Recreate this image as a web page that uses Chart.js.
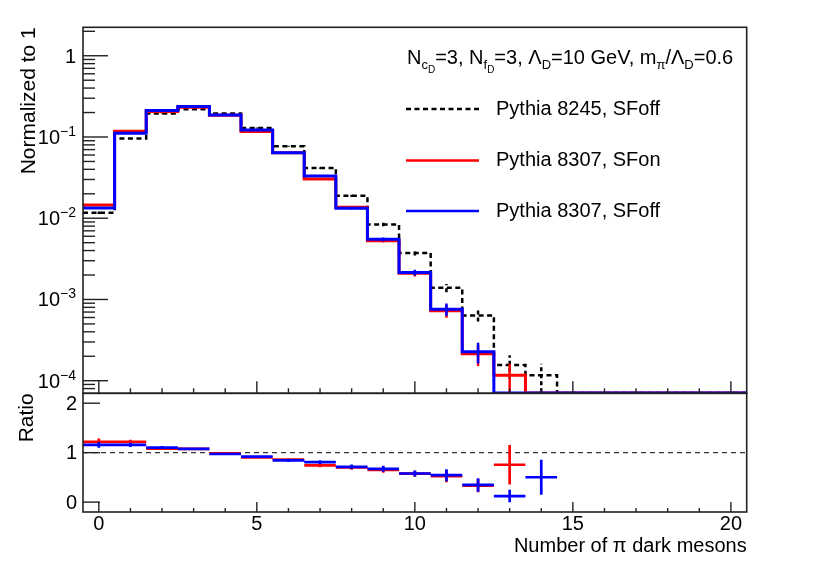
<!DOCTYPE html>
<html>
<head>
<meta charset="utf-8">
<script src="https://cdn.jsdelivr.net/npm/chart.js@4.4.0/dist/chart.umd.min.js"></script>
<style>
  html, body { margin: 0; padding: 0; background: #fff; }
  #wrap { position: relative; width: 830px; height: 563px; }
  #wrap canvas { position: absolute; left: 0; top: 0; }
</style>
</head>
<body>
<div id="wrap">
  <canvas id="chartTop" width="830" height="563"></canvas>
  <canvas id="chartRatio" width="830" height="563"></canvas>
</div>
<script>
// Multiplicité des pions sombres : Pythia 8245 vs 8307 + panneau ratio

const bins        = [0, 1, 2, 3, 4, 5, 6, 7, 8, 9, 10, 11, 12, 13, 14, 15, 16, 17, 18, 19, 20];
const xMajorTicks = [0, 5, 10, 15, 20];
const yLogTicks   = [1e-4, 1e-3, 1e-2, 1e-1, 1];
const ratioTicks  = [0, 1, 2];

// histos normalisés
const p8245SFoff    = [0.0117, 0.0955, 0.1945, 0.220, 0.1945, 0.129, 0.0768, 0.0414, 0.0189, 0.00837, 0.00374, 0.00139, 0.000634, 0.000156, 0.000117, 0, 0, 0, 0, 0, 0];
const p8245SFoffErr = [0.0004, 0.0013, 0.0019, 0.0020, 0.0019, 0.0015, 0.0012, 0.00085, 0.0006, 0.0004, 0.00026, 0.00016, 0.0001, 0.00005, 0.000045, 0, 0, 0, 0, 0, 0];
const p8307SFon     = [0.0146, 0.1175, 0.206, 0.233, 0.185, 0.1167, 0.064, 0.0303, 0.0137, 0.0053, 0.0021, 0.000725, 0.000215, 0.000117, 0, 0, 0, 0, 0, 0, 0];
const p8307SFonErr  = [0.0004, 0.0013, 0.0018, 0.0019, 0.0017, 0.0014, 0.0010, 0.00068, 0.00046, 0.00028, 0.00018, 0.00013, 0.000063, 0.000045, 0, 0, 0, 0, 0, 0, 0];
const p8307SFoff    = [0.0134, 0.111, 0.212, 0.237, 0.187, 0.122, 0.0642, 0.033, 0.0133, 0.00551, 0.00215, 0.00076, 0.000228, 0.000019, 0.000058, 0, 0, 0, 0, 0, 0];
const p8307SFoffErr = [0.00038, 0.0012, 0.0018, 0.0019, 0.0017, 0.0014, 0.0010, 0.0007, 0.00045, 0.00029, 0.00018, 0.00013, 0.000065, 0.000019, 0.000033, 0, 0, 0, 0, 0, 0];

// ratio 8307 / 8245
const ratioSFon     = [1.218, 1.218, 1.082, 1.075, 0.986, 0.904, 0.857, 0.741, 0.700, 0.653, 0.575, 0.524, 0.333, 0.755, null, null, null, null, null, null, null];
const ratioSFonErr  = [0.068, 0.045, 0.030, 0.028, 0.026, 0.028, 0.032, 0.036, 0.045, 0.060, 0.060, 0.120, 0.135, 0.400, null, null, null, null, null, null, null];
const ratioSFoff    = [1.157, 1.157, 1.102, 1.075, 0.973, 0.918, 0.844, 0.810, 0.714, 0.673, 0.578, 0.544, 0.347, 0.122, 0.503, null, null, null, null, null, null];
const ratioSFoffErr = [0.060, 0.045, 0.030, 0.028, 0.026, 0.028, 0.032, 0.038, 0.045, 0.060, 0.060, 0.120, 0.136, 0.126, 0.354, null, null, null, null, null, null];

const Y_MIN = 7.06e-5;
const Y_MAX = 2.24;
const R_MIN = -0.2;
const R_MAX = 2.2;

const BLUE  = '#0000ff';
const RED   = '#ff0000';
const BLACK = '#000000';
const FRAME = '#222222';
const FONT  = '"Liberation Sans", Arial, Helvetica, sans-serif';

// bords de bins -> escalier, les bins vides tombent sur le bas du cadre
function histoPoints(vals) {
  const pts = vals.map((v, i) => ({ x: bins[i] - 0.5, y: Math.max(v, Y_MIN) }));
  pts.push({ x: bins[bins.length - 1] + 0.5, y: Math.max(vals[vals.length - 1], Y_MIN) });
  return pts;
}

// barres d'erreur verticales, comme ROOT on saute les points sous le minimum
function errPoints(vals, errs) {
  const pts = [];
  vals.forEach((v, i) => {
    if (!(v >= Y_MIN) || !errs[i]) return;
    pts.push({ x: bins[i], y: Math.max(v - errs[i], Y_MIN) });
    pts.push({ x: bins[i], y: v + errs[i] });
    pts.push({ x: bins[i], y: null });
  });
  return pts;
}

// ratio : trait horizontal sur la largeur du bin + erreur verticale
function ratioPoints(vals, errs) {
  const pts = [];
  vals.forEach((v, i) => {
    if (v == null) return;
    pts.push({ x: bins[i] - 0.5, y: v }, { x: bins[i] + 0.5, y: v }, { x: bins[i], y: null });
    pts.push({ x: bins[i], y: v - errs[i] }, { x: bins[i], y: v + errs[i] }, { x: bins[i], y: null });
  });
  return pts;
}

function drawRich(ctx, x, y, segs) {
  const sizes  = [20, 13, 10];
  const shifts = [0, 5, 9];
  let cx = x;
  segs.forEach(([txt, lvl]) => {
    ctx.font = `${sizes[lvl]}px ${FONT}`;
    ctx.fillText(txt, cx, y + shifts[lvl]);
    cx += ctx.measureText(txt).width;
  });
}

function drawFrame(ctx, area) {
  ctx.strokeStyle = FRAME;
  ctx.lineWidth = 1.6;
  ctx.strokeRect(area.left, area.top, area.right - area.left, area.bottom - area.top);
}

function drawXTicks(ctx, chart, majorLen, minorLen) {
  const xs = chart.scales.x;
  const bottom = chart.chartArea.bottom;
  ctx.strokeStyle = FRAME;
  ctx.lineWidth = 1.4;
  bins.forEach(b => {
    const len = xMajorTicks.includes(b) ? majorLen : minorLen;
    const x = xs.getPixelForValue(b);
    ctx.beginPath();
    ctx.moveTo(x, bottom);
    ctx.lineTo(x, bottom - len);
    ctx.stroke();
  });
}

function drawYTitle(ctx, text, x, top, size) {
  ctx.save();
  ctx.translate(x, top);
  ctx.rotate(-Math.PI / 2);
  ctx.font = `${size}px ${FONT}`;
  ctx.fillStyle = BLACK;
  ctx.textAlign = 'right';
  ctx.textBaseline = 'middle';
  ctx.fillText(text, 0, 0);
  ctx.restore();
}

const topDecor = {
  id: 'topDecor',
  afterDraw(chart) {
    const ctx = chart.ctx;
    const area = chart.chartArea;
    const ys = chart.scales.y;
    ctx.save();
    drawFrame(ctx, area);

    // ticks log, majeurs + mineurs 2..9
    ctx.strokeStyle = FRAME;
    ctx.lineWidth = 1.4;
    for (let d = -5; d <= 0; d++) {
      for (let m = 1; m <= 9; m++) {
        const v = m * Math.pow(10, d);
        if (v < Y_MIN || v > Y_MAX) continue;
        const y = ys.getPixelForValue(v);
        ctx.beginPath();
        ctx.moveTo(area.left, y);
        ctx.lineTo(area.left + (m === 1 ? 25 : 12), y);
        ctx.stroke();
      }
    }
    drawXTicks(ctx, chart, 12, 5);

    // labels 10^n
    ctx.fillStyle = BLACK;
    yLogTicks.forEach(v => {
      const y = ys.getPixelForValue(v);
      const e = Math.round(Math.log10(v));
      ctx.textAlign = 'left';
      ctx.textBaseline = 'alphabetic';
      if (e === 0) {
        ctx.font = `20px ${FONT}`;
        ctx.fillText('1', 76 - ctx.measureText('1').width, y + 7);
        return;
      }
      const sup = '\u2212' + (-e);
      ctx.font = `14px ${FONT}`;
      const ws = ctx.measureText(sup).width;
      ctx.fillText(sup, 76 - ws, y - 1);
      ctx.font = `20px ${FONT}`;
      const wb = ctx.measureText('10').width;
      ctx.fillText('10', 76 - ws - wb, y + 7);
    });

    drawYTitle(ctx, 'Normalized to 1', 29, area.top, 21);

    // en-tête
    ctx.fillStyle = BLACK;
    ctx.textAlign = 'left';
    ctx.textBaseline = 'alphabetic';
    drawRich(ctx, 407, 64, [
      ['N', 0], ['c', 1], ['D', 2], ['=3, N', 0], ['f', 1], ['D', 2],
      ['=3, \u039B', 0], ['D', 1], ['=10 GeV, m', 0], ['\u03C0', 1],
      ['/\u039B', 0], ['D', 1], ['=0.6', 0],
    ]);

    // légende
    const entries = [
      { label: 'Pythia 8245, SFoff', color: BLACK, dash: [5, 3.5], y: 109 },
      { label: 'Pythia 8307, SFon',  color: RED,   dash: [],       y: 160.5 },
      { label: 'Pythia 8307, SFoff', color: BLUE,  dash: [],       y: 211 },
    ];
    entries.forEach(en => {
      ctx.strokeStyle = en.color;
      ctx.lineWidth = 2.5;
      ctx.setLineDash(en.dash);
      ctx.beginPath();
      ctx.moveTo(406, en.y);
      ctx.lineTo(479, en.y);
      ctx.stroke();
      ctx.setLineDash([]);
      ctx.font = `20px ${FONT}`;
      ctx.fillStyle = BLACK;
      ctx.textBaseline = 'middle';
      ctx.fillText(en.label, 496, en.y);
    });
    ctx.restore();
  },
};

const ratioDecor = {
  id: 'ratioDecor',
  afterDraw(chart) {
    const ctx = chart.ctx;
    const area = chart.chartArea;
    const xs = chart.scales.x;
    const ys = chart.scales.y;
    ctx.save();
    drawFrame(ctx, area);

    ctx.strokeStyle = FRAME;
    ctx.lineWidth = 1.4;
    ratioTicks.forEach(v => {
      const y = ys.getPixelForValue(v);
      ctx.beginPath();
      ctx.moveTo(area.left, y);
      ctx.lineTo(area.left + 17, y);
      ctx.stroke();
    });
    drawXTicks(ctx, chart, 10, 4);

    ctx.fillStyle = BLACK;
    ctx.font = `20px ${FONT}`;
    ctx.textAlign = 'right';
    ctx.textBaseline = 'middle';
    ratioTicks.forEach(v => ctx.fillText(String(v), 77, ys.getPixelForValue(v) + 1));

    ctx.textAlign = 'center';
    ctx.textBaseline = 'alphabetic';
    xMajorTicks.forEach(v => ctx.fillText(String(v), xs.getPixelForValue(v), 530));

    ctx.textAlign = 'right';
    ctx.fillText('Number of \u03C0 dark mesons', area.right, 552);

    drawYTitle(ctx, 'Ratio', 27, area.top, 21);
    ctx.restore();
  },
};

const commonOpts = {
  responsive: false,
  animation: false,
  devicePixelRatio: 1,
  events: [],
  plugins: { legend: { display: false }, tooltip: { enabled: false } },
  elements: { point: { radius: 0, hoverRadius: 0 }, line: { tension: 0, fill: false } },
};

new Chart(document.getElementById('chartTop'), {
  type: 'line',
  data: {
    datasets: [
      { label: 'Pythia 8307, SFoff', data: histoPoints(p8307SFoff), borderColor: BLUE, borderWidth: 3, stepped: true, order: 0 },
      { label: 'err 8307 SFoff', data: errPoints(p8307SFoff, p8307SFoffErr), borderColor: BLUE, borderWidth: 2.5, spanGaps: false, order: 0 },
      { label: 'Pythia 8307, SFon', data: histoPoints(p8307SFon), borderColor: RED, borderWidth: 3, stepped: true, order: 1 },
      { label: 'err 8307 SFon', data: errPoints(p8307SFon, p8307SFonErr), borderColor: RED, borderWidth: 2.5, spanGaps: false, order: 1 },
      { label: 'Pythia 8245, SFoff', data: histoPoints(p8245SFoff), borderColor: BLACK, borderWidth: 2.5, borderDash: [5, 3.5], stepped: true, order: 2 },
      { label: 'err 8245 SFoff', data: errPoints(p8245SFoff, p8245SFoffErr), borderColor: BLACK, borderWidth: 2.5, borderDash: [4, 3], spanGaps: false, order: 2 },
    ],
  },
  options: {
    ...commonOpts,
    layout: { padding: { left: 83, right: 83.3, top: 27.3, bottom: 169.7 } },
    scales: {
      x: { type: 'linear', min: -0.5, max: 20.5, display: false },
      y: { type: 'logarithmic', min: Y_MIN, max: Y_MAX, display: false },
    },
  },
  plugins: [topDecor],
});

new Chart(document.getElementById('chartRatio'), {
  type: 'line',
  data: {
    datasets: [
      { label: 'SFoff / 8245', data: ratioPoints(ratioSFoff, ratioSFoffErr), borderColor: BLUE, borderWidth: 2.7, spanGaps: false, order: 0 },
      { label: 'SFon / 8245', data: ratioPoints(ratioSFon, ratioSFonErr), borderColor: RED, borderWidth: 2.7, spanGaps: false, order: 1 },
      { label: 'unité', data: [{ x: -0.5, y: 1 }, { x: 20.5, y: 1 }], borderColor: '#333333', borderWidth: 1.2, borderDash: [5, 4], order: 2 },
    ],
  },
  options: {
    ...commonOpts,
    layout: { padding: { left: 83, right: 83.3, top: 393.3, bottom: 51 } },
    scales: {
      x: { type: 'linear', min: -0.5, max: 20.5, display: false },
      y: { type: 'linear', min: R_MIN, max: R_MAX, display: false },
    },
  },
  plugins: [ratioDecor],
});
</script>
</body>
</html>
